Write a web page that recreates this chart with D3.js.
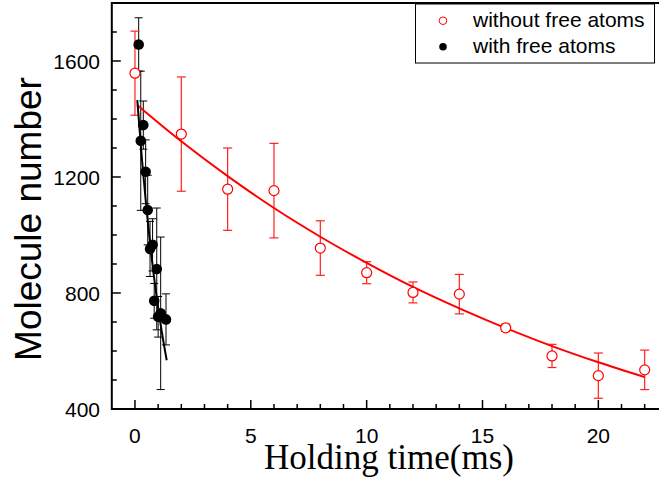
<!DOCTYPE html>
<html><head><meta charset="utf-8">
<script src="https://cdn.jsdelivr.net/npm/d3@7"></script>
<style>body{margin:0;background:#fff}svg{display:block}</style>
</head><body>
<svg id="c" width="659" height="477"></svg>
<script>
const redX = [0,2,4,6,8,10,12,14,16,18,20,22];
const redY = [1558,1348,1158,1153,955,870,802,796,680,583,515,535];
const redErr = [145,197,142,163,94,38,36,68,12,40,78,68];
const redFitX = [0.1,2,4,6,8,10,12,14,16,18,20,22];
const redFitY = [1448,1323,1203,1093,994,904,821,747,679,617,561,510];

const blackX = [0.16,0.25,0.36,0.46,0.55,0.65,0.76,0.83,0.94,1.0,1.11,1.34];
const blackY = [1657,1325,1379,1218,1086,952,966,773,883,718,730,709];
const blackErr = [92,240,83,110,120,95,90,60,210,70,263,88];
const blackFitX = [0.1,0.3,0.5,0.7,0.9,1.1,1.37];
const blackFitY = [1465,1262,1087,936,807,695,568];

const xTicks = [0,5,10,15,20];
const yTicks = [400,800,1200,1600];
const legendLabels = ["without free atoms","with free atoms"];

const svg = d3.select("#c");
const x = d3.scaleLinear().domain([-1,24.5]).range([111.8,702.6]);
const y = d3.scaleLinear().domain([400,1800]).range([409,3]);

// frame
const L = x(-1), R = x(24.5), T = y(1800), B = y(400);
svg.append("path").attr("d",`M${R},${T}H${L}V${B}H${R}`).attr("fill","none").attr("stroke","#000").attr("stroke-width",2);

// x ticks
const xMinor = d3.range(0,25,1);
svg.append("g").selectAll("line").data(xMinor).join("line")
  .attr("x1",d=>x(d)).attr("x2",d=>x(d)).attr("y1",B).attr("y2",d=>B-(d%5===0?9:5))
  .attr("stroke","#000").attr("stroke-width",1.5);
svg.append("g").selectAll("text").data(xTicks).join("text")
  .attr("x",d=>x(d)).attr("y",443).attr("text-anchor","middle")
  .attr("font-family","Liberation Sans, Arial, sans-serif").attr("font-size",21)
  .text(d=>d);

// y ticks
const yMinor = d3.range(400,1801,100);
svg.append("g").selectAll("line").data(yMinor).join("line")
  .attr("x1",L).attr("x2",d=>L+(d%400===0?9:5)).attr("y1",d=>y(d)).attr("y2",d=>y(d))
  .attr("stroke","#000").attr("stroke-width",1.5);
svg.append("g").selectAll("text").data(yTicks).join("text")
  .attr("x",100).attr("y",d=>y(d)+7.5).attr("text-anchor","end")
  .attr("font-family","Liberation Sans, Arial, sans-serif").attr("font-size",21)
  .text(d=>d);

// axis titles
svg.append("text").attr("transform","translate(41,219) rotate(-90)").attr("text-anchor","middle")
  .attr("font-family","Liberation Sans, Arial, sans-serif").attr("font-size",37).text("Molecule number");
svg.append("text").attr("x",389).attr("y",469).attr("text-anchor","middle")
  .attr("font-family","Liberation Serif, Times New Roman, serif").attr("font-size",35).text("Holding time(ms)");

const line = d3.line().x(d=>x(d[0])).y(d=>y(d[1])).curve(d3.curveMonotoneX);

// black error bars
const bd = blackX.map((v,i)=>({x:v,y:blackY[i],e:blackErr[i]}));
const gb = svg.append("g").attr("stroke","#000").attr("stroke-width",1);
bd.forEach(d=>{
  gb.append("line").attr("x1",x(d.x)).attr("x2",x(d.x)).attr("y1",y(d.y+d.e)).attr("y2",y(d.y-d.e));
  [d.y+d.e,d.y-d.e].forEach(v=>gb.append("line").attr("x1",x(d.x)-4).attr("x2",x(d.x)+4).attr("y1",y(v)).attr("y2",y(v)));
});

// red error bars
const rd = redX.map((v,i)=>({x:v,y:redY[i],e:redErr[i]}));
const gr = svg.append("g").attr("stroke","#ff2020").attr("stroke-width",1.2);
rd.forEach(d=>{
  gr.append("line").attr("x1",x(d.x)).attr("x2",x(d.x)).attr("y1",y(d.y+d.e)).attr("y2",y(d.y-d.e));
  [d.y+d.e,d.y-d.e].forEach(v=>gr.append("line").attr("x1",x(d.x)-4.5).attr("x2",x(d.x)+4.5).attr("y1",y(v)).attr("y2",y(v)));
});

// fits
svg.append("path").datum(redFitX.map((v,i)=>[v,redFitY[i]])).attr("d",line)
  .attr("fill","none").attr("stroke","#ff0000").attr("stroke-width",2);
svg.append("path").datum(blackFitX.map((v,i)=>[v,blackFitY[i]])).attr("d",line)
  .attr("fill","none").attr("stroke","#000").attr("stroke-width",2);

// markers
svg.append("g").selectAll("circle").data(rd).join("circle")
  .attr("cx",d=>x(d.x)).attr("cy",d=>y(d.y)).attr("r",5)
  .attr("fill","#fff").attr("stroke","#ff0000").attr("stroke-width",1.2);
svg.append("g").selectAll("circle").data(bd).join("circle")
  .attr("cx",d=>x(d.x)).attr("cy",d=>y(d.y)).attr("r",5.3).attr("fill","#000");

// legend
svg.append("rect").attr("x",415.5).attr("y",4).attr("width",239).attr("height",59)
  .attr("fill","#fff").attr("stroke","#000").attr("stroke-width",1);
svg.append("circle").attr("cx",443).attr("cy",20.7).attr("r",3.8).attr("fill","#fff").attr("stroke","#ff0000").attr("stroke-width",1);
svg.append("circle").attr("cx",443).attr("cy",46.7).attr("r",3.8).attr("fill","#000");
svg.append("g").selectAll("text").data(legendLabels).join("text")
  .attr("x",473).attr("y",(d,i)=>27+i*26)
  .attr("font-family","Liberation Sans, Arial, sans-serif").attr("font-size",21)
  .text(d=>d);
</script>
</body></html>
